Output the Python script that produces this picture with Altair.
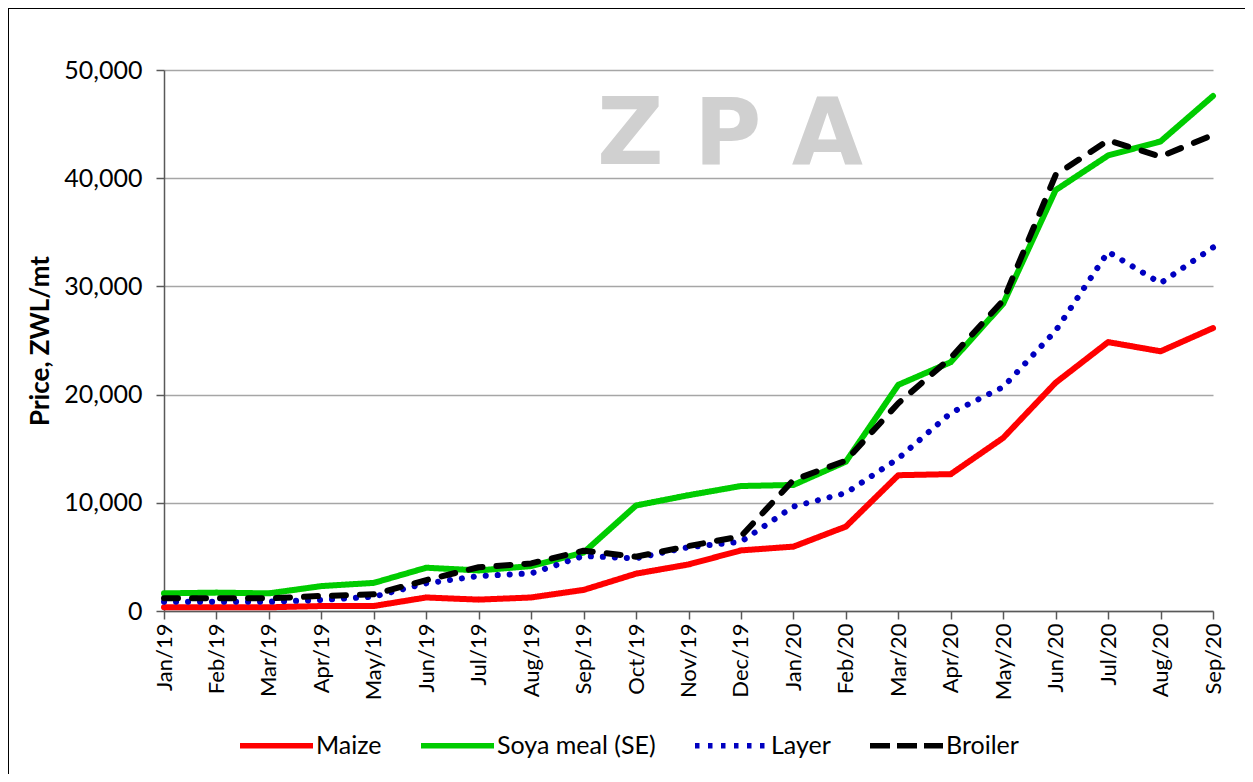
import altair as alt
import pandas as pd

months = ["Jan/19", "Feb/19", "Mar/19", "Apr/19", "May/19", "Jun/19", "Jul/19",
          "Aug/19", "Sep/19", "Oct/19", "Nov/19", "Dec/19", "Jan/20", "Feb/20",
          "Mar/20", "Apr/20", "May/20", "Jun/20", "Jul/20", "Aug/20", "Sep/20"]

maize = [340, 340, 340, 460, 460, 1250, 1050, 1250, 1950, 3450, 4300, 5600,
         5950, 7800, 12550, 12650, 16000, 21100, 24850, 24000, 26150]
soya = [1630, 1700, 1630, 2300, 2600, 4000, 3750, 4150, 5400, 9750, 10700, 11550,
        11650, 13800, 20900, 23000, 28400, 38900, 42100, 43400, 47600]
layer = [860, 860, 860, 1020, 1320, 2560, 3230, 3480, 5080, 4870, 5900, 6400,
         9650, 10900, 14100, 18300, 20700, 25900, 33200, 30300, 33600]
broiler = [1170, 1170, 1170, 1390, 1540, 2860, 4040, 4400, 5570, 5020, 6000, 6900,
           12100, 13900, 19200, 23400, 28700, 40300, 43500, 42000, 44000]

series = ["Maize", "Soya meal (SE)", "Layer", "Broiler"]
colors = ["#ff0000", "#00cc00", "#0000c0", "#000000"]
line_dashes = [[1, 0], [1, 0], [0.1, 11.9], [14, 14]]
legend_dashes = [[1, 0], [1, 0], [4.5, 8.5], [20, 7]]
y_ticks = [0, 10000, 20000, 30000, 40000, 50000]

rows = []
for name, vals in zip(series, [maize, soya, layer, broiler]):
    for m, v in zip(months, vals):
        rows.append({"month": m, "series": name, "price": v})
df = pd.DataFrame(rows)

FONT = "Lato"

legend = alt.Legend(
    title=None, orient="none", legendX=73, legendY=636, direction="horizontal",
    symbolType="stroke", symbolSize=5329, symbolStrokeWidth=5.5,
    labelFont=FONT, labelFontSize=25, labelColor="#000000",
    columnPadding=28, labelOffset=0,
)

x_enc = alt.X("month:O", sort=months, scale=alt.Scale(padding=0),
              axis=alt.Axis(title=None, labelAngle=270, labelFont=FONT, labelFontSize=22,
                            labelColor="#000000", tickSize=8, tickColor="#595959",
                            domainColor="#595959", domainWidth=1.5, tickWidth=1.5,
                            labelPadding=4))
y_enc = alt.Y("price:Q", scale=alt.Scale(domain=[0, 50000], nice=False),
              axis=alt.Axis(values=y_ticks, format=",.0f", title="Price, ZWL/mt",
                            grid=True, gridColor="#a6a6a6", gridWidth=1.5,
                            domainColor="#595959", domainWidth=1.5, tickColor="#595959",
                            tickWidth=1.5, tickSize=8, labelFont=FONT, labelFontSize=25,
                            labelColor="#000000", labelPadding=14,
                            titleFont=FONT, titleFontSize=26, titleFontWeight="bold",
                            titleColor="#000000", titlePadding=10))

lines = alt.Chart(df).mark_line(strokeWidth=6, strokeCap="round", strokeJoin="round").encode(
    x=x_enc, y=y_enc,
    color=alt.Color("series:N", scale=alt.Scale(domain=series, range=colors), legend=None),
    strokeDash=alt.StrokeDash("series:N", scale=alt.Scale(domain=series, range=line_dashes), legend=None),
)

legend_layer = alt.Chart(df).transform_filter("false").mark_line(strokeWidth=6).encode(
    x=alt.X("month:O", sort=months, scale=alt.Scale(padding=0)),
    y=alt.Y("price:Q"),
    color=alt.Color("series:N", scale=alt.Scale(domain=series, range=colors), legend=legend),
    strokeDash=alt.StrokeDash("series:N", scale=alt.Scale(domain=series, range=legend_dashes), legend=legend),
)

wm = alt.Chart(pd.DataFrame({"t": ["Z\u2004P\u2004A"]})).mark_text(
    font="DejaVu Sans", fontWeight="bold", fontSize=92, color="#d0d0d0",
    align="center", baseline="middle"
).encode(x=alt.value(566), y=alt.value(66), text="t:N")

frame = alt.Chart(pd.DataFrame({"a": [0]})).mark_rect(
    fill="#ffffff", fillOpacity=0, stroke="#000000", strokeWidth=2
).encode(x=alt.value(-156), x2=alt.value(1130), y=alt.value(-62), y2=alt.value(760))

chart = alt.layer(frame, wm, lines, legend_layer).resolve_scale(
    color="independent", strokeDash="independent"
).properties(
    width=1049, height=541,
    autosize=alt.AutoSizeParams(type="none"),
    padding={"left": 156, "top": 62, "right": 32, "bottom": 163},
).configure_view(strokeWidth=0)

chart.save("out.html", embed_options={"renderer": "svg", "actions": False})
